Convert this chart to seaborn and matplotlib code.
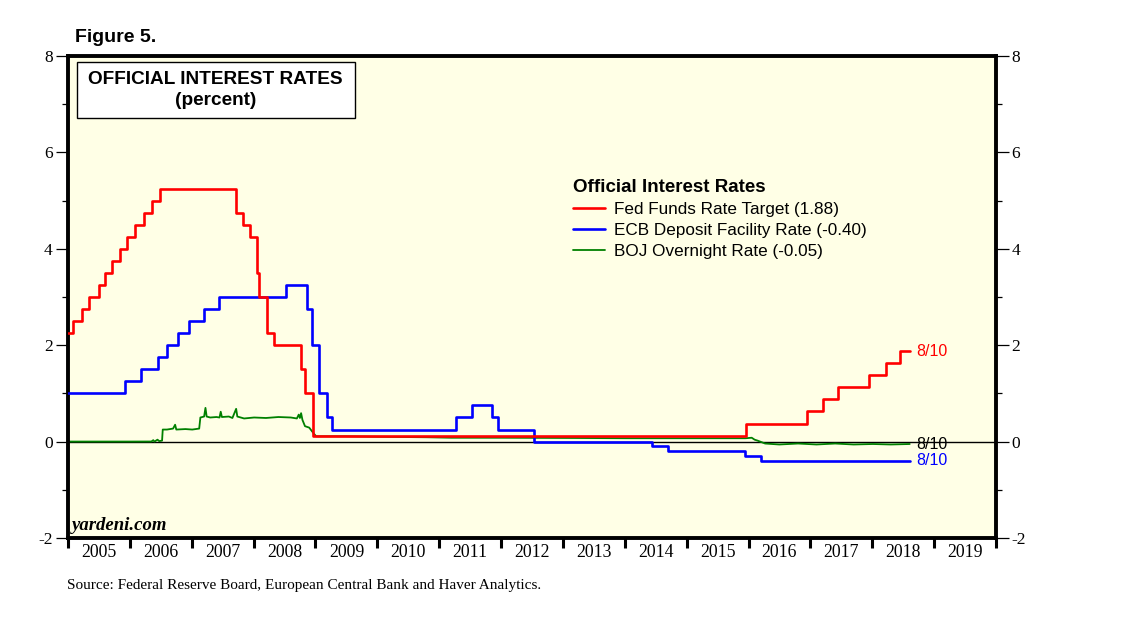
import numpy as np
import pandas as pd
import matplotlib
matplotlib.use("Agg")
from matplotlib import pyplot as plt
from matplotlib.patches import Rectangle
from matplotlib.ticker import MultipleLocator, FixedLocator, FixedFormatter
import seaborn as sns

# Fed funds target (step changes)
fed_dates = ["2005-01-01", "2005-02-02", "2005-03-22", "2005-05-03", "2005-06-30",
             "2005-08-09", "2005-09-20", "2005-11-01", "2005-12-13", "2006-01-31",
             "2006-03-28", "2006-05-10", "2006-06-29", "2007-09-18", "2007-10-31",
             "2007-12-11", "2008-01-22", "2008-01-30", "2008-03-18", "2008-04-30",
             "2008-10-08", "2008-10-29", "2008-12-16", "2015-12-16", "2016-12-14",
             "2017-03-15", "2017-06-14", "2017-12-13", "2018-03-21", "2018-06-13",
             "2018-08-10"]
fed_rate = [2.25, 2.5, 2.75, 3.0, 3.25, 3.5, 3.75, 4.0, 4.25, 4.5,
            4.75, 5.0, 5.25, 4.75, 4.5, 4.25, 3.5, 3.0, 2.25, 2.0,
            1.5, 1.0, 0.125, 0.375, 0.625, 0.875, 1.125, 1.375, 1.625, 1.875,
            1.875]

# ECB deposit facility rate (step changes)
ecb_dates = ["2005-01-01", "2005-12-06", "2006-03-08", "2006-06-15", "2006-08-09",
             "2006-10-11", "2006-12-13", "2007-03-14", "2007-06-13", "2008-07-09",
             "2008-11-12", "2008-12-10", "2009-01-21", "2009-03-11", "2009-04-08",
             "2011-04-13", "2011-07-13", "2011-11-09", "2011-12-14", "2012-07-11",
             "2014-06-11", "2014-09-10", "2015-12-09", "2016-03-16", "2018-08-10"]
ecb_rate = [1.0, 1.25, 1.5, 1.75, 2.0, 2.25, 2.5, 2.75, 3.0, 3.25,
            2.75, 2.0, 1.0, 0.5, 0.25, 0.5, 0.75, 0.5, 0.25, 0.0,
            -0.1, -0.2, -0.3, -0.4, -0.4]

# BOJ overnight call rate
boj_dates = ["2005-01-04", "2005-07-01", "2006-01-04", "2006-05-08", "2006-05-19",
             "2006-05-26", "2006-06-13", "2006-06-23", "2006-07-10", "2006-07-14",
             "2006-08-08", "2006-09-13", "2006-09-25", "2006-10-02", "2006-11-25",
             "2007-01-04", "2007-02-14", "2007-02-21", "2007-03-15", "2007-03-23",
             "2007-03-30", "2007-04-20", "2007-05-27", "2007-06-14", "2007-06-21",
             "2007-06-28", "2007-08-08", "2007-08-29", "2007-09-20", "2007-09-27",
             "2007-11-06", "2008-01-04", "2008-03-14", "2008-05-27", "2008-08-08",
             "2008-09-13", "2008-09-24", "2008-10-01", "2008-10-08", "2008-10-16",
             "2008-10-31", "2008-11-25", "2008-12-19", "2009-01-05", "2009-07-01",
             "2010-01-04", "2010-10-20", "2011-03-15", "2012-01-04", "2013-03-15",
             "2014-01-04", "2015-01-04", "2015-12-15", "2016-01-20", "2016-02-06",
             "2016-02-24", "2016-04-08", "2016-07-01", "2016-10-20", "2017-02-06",
             "2017-05-27", "2017-09-13", "2018-01-04", "2018-04-20", "2018-08-10"]
boj_rate = [0.001, 0.001, 0.001, 0.002, 0.03, 0.0, 0.04, 0.01, 0.02, 0.25,
            0.25, 0.27, 0.35, 0.25, 0.26, 0.25, 0.27, 0.50, 0.52, 0.70,
            0.52, 0.50, 0.51, 0.50, 0.62, 0.51, 0.52, 0.49, 0.68, 0.52,
            0.48, 0.50, 0.49, 0.51, 0.50, 0.48, 0.56, 0.49, 0.59, 0.45,
            0.32, 0.29, 0.18, 0.11, 0.11, 0.10, 0.09, 0.08, 0.08, 0.075,
            0.07, 0.07, 0.07, 0.08, 0.04, 0.02, -0.04, -0.06, -0.04, -0.06,
            -0.04, -0.06, -0.05, -0.06, -0.05]

labels = ["Fed Funds Rate Target (1.88)", "ECB Deposit Facility Rate (-0.40)",
          "BOJ Overnight Rate (-0.05)"]
colors = ["#FF0000", "#0000FF", "#008000"]
years = list(range(2005, 2020))


def to_year(dates):
    d = pd.to_datetime(pd.Series(dates))
    return (d.dt.year + (d.dt.dayofyear - 1) / (365 + d.dt.is_leap_year.astype(int))).to_numpy()


fed = pd.DataFrame({"year": to_year(fed_dates), "rate": fed_rate})
ecb = pd.DataFrame({"year": to_year(ecb_dates), "rate": ecb_rate})
boj = pd.DataFrame({"year": to_year(boj_dates), "rate": boj_rate})

sns.set_style("ticks", {"axes.edgecolor": "black", "text.color": "black",
                        "xtick.color": "black", "ytick.color": "black"})
plt.rcParams["axes.unicode_minus"] = False
serif = "Liberation Serif"
sans = "Liberation Sans"

fig = plt.figure(figsize=(11.38, 6.21), dpi=100)
ax = fig.add_axes([68 / 1138, 1 - 538 / 621, 928 / 1138, 482 / 621])
ax.set_facecolor("#FFFFE6")

ax.axhline(0, color="black", lw=1.0, zorder=1)
sns.lineplot(data=fed, x="year", y="rate", color=colors[0], lw=1.9,
             drawstyle="steps-post", estimator=None, ax=ax, zorder=4)
sns.lineplot(data=ecb, x="year", y="rate", color=colors[1], lw=1.9,
             drawstyle="steps-post", estimator=None, ax=ax, zorder=3)
sns.lineplot(data=boj, x="year", y="rate", color=colors[2], lw=1.3,
             estimator=None, ax=ax, zorder=2)

ax.set_xlim(2005, 2020)
ax.set_ylim(-2, 8)
ax.set_xlabel("")
ax.set_ylabel("")

for s in ax.spines.values():
    s.set_linewidth(2.8)
    s.set_color("black")
    s.set_visible(True)

# y axis both sides
ax.yaxis.set_major_locator(MultipleLocator(2))
ax.yaxis.set_minor_locator(MultipleLocator(1))
ax.tick_params(axis="y", which="major", direction="out", length=9, width=0.9,
               left=True, right=True, labelleft=True, labelright=True, pad=2,
               labelsize=12.5)
ax.tick_params(axis="y", which="minor", direction="out", length=4.5, width=0.9,
               left=True, right=True)
for t in ax.get_yticklabels():
    t.set_fontfamily(serif)

# x axis: ticks at year boundaries, labels in between
ax.xaxis.set_major_locator(FixedLocator(list(range(2005, 2021))))
ax.xaxis.set_major_formatter(FixedFormatter([""] * 16))
ax.xaxis.set_minor_locator(FixedLocator([y + 0.5 for y in years]))
ax.xaxis.set_minor_formatter(FixedFormatter([str(y) for y in years]))
ax.tick_params(axis="x", which="major", direction="out", length=7, width=2.2)
ax.tick_params(axis="x", which="minor", length=0, pad=4, labelsize=12.8)
for t in ax.get_xticklabels(minor=True):
    t.set_fontfamily(serif)

# legend
handles = ax.get_lines()[1:4]
leg = ax.legend(handles, labels, title="Official Interest Rates", loc="upper left",
                bbox_to_anchor=(0.544, 0.745), frameon=False, borderpad=0,
                borderaxespad=0, handlelength=1.9, handletextpad=0.5,
                labelspacing=0.36, alignment="left",
                prop={"family": sans, "size": 12.3},
                title_fontproperties={"family": sans, "size": 13.5, "weight": "bold"})

# end labels
for df, c in zip([fed, ecb, boj], ["#FF0000", "#0000FF", "black"]):
    ax.text(df["year"].iloc[-1] + 0.1, df["rate"].iloc[-1], "8/10", color=c,
            fontsize=11.5, family=sans, va="center", ha="left", zorder=5)

# title box
ax.add_patch(Rectangle((0.0097, 0.871), 0.2995, 0.1166, transform=ax.transAxes,
                       facecolor="white", edgecolor="black", lw=1.0, zorder=6))
ax.text(0.159, 0.952, "OFFICIAL INTEREST RATES", transform=ax.transAxes,
        ha="center", va="center", family=sans, weight="bold", fontsize=13.7, zorder=7)
ax.text(0.159, 0.907, "(percent)", transform=ax.transAxes,
        ha="center", va="center", family=sans, weight="bold", fontsize=13.7, zorder=7)

ax.text(0.004, 0.025, "yardeni.com", transform=ax.transAxes, ha="left", va="center",
        family=serif, style="italic", weight="bold", fontsize=13.5)

fig.text(75 / 1138, 1 - 38 / 621, "Figure 5.", family=sans, weight="bold",
         fontsize=14, ha="left", va="center")
fig.text(67 / 1138, 1 - 586 / 621,
         "Source: Federal Reserve Board, European Central Bank and Haver Analytics.",
         family=serif, fontsize=11, ha="left", va="center")

fig.savefig("out.png", dpi=100)
